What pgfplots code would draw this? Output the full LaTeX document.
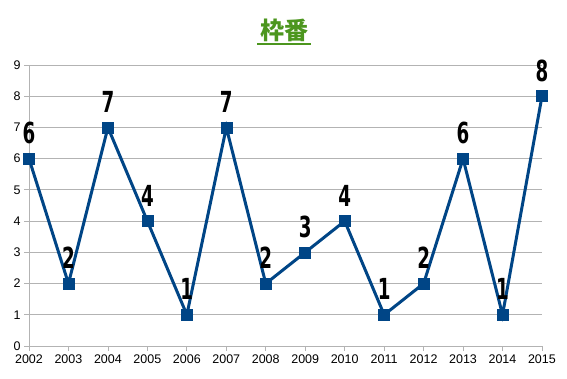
\documentclass[border=0pt]{standalone}
\usepackage{pgfplots}
\pgfplotsset{compat=1.18}
\usepackage{fontspec}
\setmainfont{Liberation Sans}
\newfontfamily\cjk{Noto Sans CJK JP}
\newfontfamily\lab{DejaVu Sans}
\definecolor{lineblue}{RGB}{0,69,134}
\definecolor{titlegreen}{RGB}{76,150,30}
\definecolor{gridgray}{RGB}{179,179,179}
\begin{document}
\begin{tikzpicture}
\begin{axis}[
 scale only axis, width=513pt, height=281pt,
 xmin=2002, xmax=2015, ymin=0, ymax=9,
 xtick={2002,...,2015}, ytick={0,...,9},
 axis x line*=bottom, axis y line*=left,
 axis line style={draw=gridgray, line width=0.8pt},
 ymajorgrids, major grid style={draw=gridgray, line width=0.8pt},
 tick align=outside, major tick length=5pt, tick style={draw=gridgray, line width=0.8pt},
 ticklabel style={font=\fontsize{12.5}{12.5}\selectfont},
 /pgf/number format/assume math mode=true,
 /pgf/number format/set thousands separator={},
 clip=false,
 nodes near coords,
 every node near coord/.append style={font=\fontsize{29}{29}\selectfont\lab\bfseries, anchor=base, inner sep=0pt, yshift=15pt, xscale=0.63, text=black},
]
\addplot[color=lineblue, line width=3pt, mark=square*, mark size=5.5pt, mark options={solid, line width=0.5pt, fill=lineblue}] coordinates {
(2002,6) (2003,2) (2004,7) (2005,4) (2006,1) (2007,7) (2008,2) (2009,3) (2010,4) (2011,1) (2012,2) (2013,6) (2014,1) (2015,8)
};
\end{axis}
\node[text=titlegreen, font=\fontsize{24}{24}\selectfont\cjk\bfseries, inner sep=0pt, anchor=base] at (255pt,306pt) {枠番};
\draw[titlegreen, line width=2pt] (228pt,302pt) -- (282pt,302pt);
\path (-29pt,-32pt) rectangle (538pt,346pt);
\end{tikzpicture}
\end{document}
